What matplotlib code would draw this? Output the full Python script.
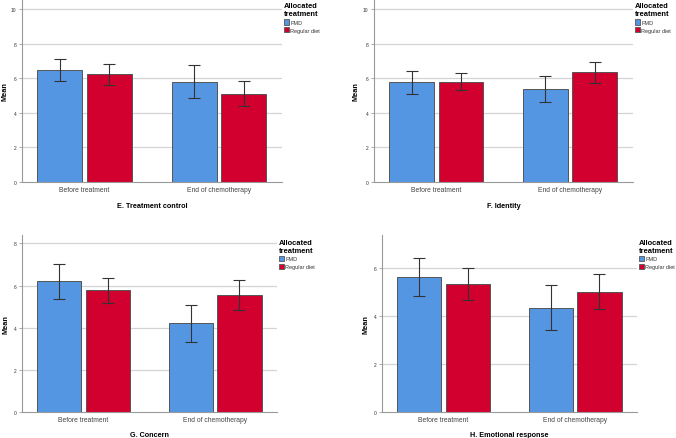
import numpy as np
import matplotlib
matplotlib.use('Agg')
import matplotlib.pyplot as plt
from matplotlib.patches import Patch

plt.rcParams['font.family'] = ['Liberation Sans', 'DejaVu Sans']

# time points and groups
timepoints = ['Before treatment', 'End of chemotherapy']
groups = ['FMD', 'Regular diet']
group_colors = ['#5596E3', '#D1002E']

# panel titles
panel_titles = ['E. Treatment control', 'F. Identity', 'G. Concern', 'H. Emotional response']

# means per panel: [before, end]
e_fmd = [6.51, 5.82]
e_reg = [6.24, 5.13]
f_fmd = [5.80, 5.41]
f_reg = [5.82, 6.38]
g_fmd = [6.20, 4.21]
g_reg = [5.79, 5.54]
h_fmd = [5.64, 4.35]
h_reg = [5.33, 5.01]

# error bar ends (lower, upper)
e_fmd_lo = [5.88, 4.87]
e_fmd_hi = [7.11, 6.76]
e_reg_lo = [5.65, 4.41]
e_reg_hi = [6.86, 5.86]
f_fmd_lo = [5.13, 4.66]
f_fmd_hi = [6.45, 6.15]
f_reg_lo = [5.36, 5.76]
f_reg_hi = [6.30, 6.97]
g_fmd_lo = [5.38, 3.34]
g_fmd_hi = [7.02, 5.08]
g_reg_lo = [5.19, 4.83]
g_reg_hi = [6.37, 6.25]
h_fmd_lo = [4.85, 3.43]
h_fmd_hi = [6.40, 5.28]
h_reg_lo = [4.68, 4.27]
h_reg_hi = [6.00, 5.76]

# y ticks per panel
e_ticks = [0, 2, 4, 6, 8, 10]
f_ticks = [0, 2, 4, 6, 8, 10]
g_ticks = [0, 2, 4, 6, 8]
h_ticks = [0, 2, 4, 6]
ylims = [10.55, 10.55, 8.4, 7.37]

W, H = 676, 439
fig = plt.figure(figsize=(W / 100, H / 100), dpi=100)
fig.patch.set_facecolor('white')

# axes boxes in pixels: left, top, right, bottom
boxes = [(22, 1, 282, 183), (374, 1, 633, 183), (22, 236, 277, 413), (382, 236, 637, 413)]
# x pixel of the "Mean" label centre
ylab_x = [5, 356, 6, 366]

panels = [
    (e_fmd, e_reg, e_fmd_lo, e_fmd_hi, e_reg_lo, e_reg_hi, e_ticks),
    (f_fmd, f_reg, f_fmd_lo, f_fmd_hi, f_reg_lo, f_reg_hi, f_ticks),
    (g_fmd, g_reg, g_fmd_lo, g_fmd_hi, g_reg_lo, g_reg_hi, g_ticks),
    (h_fmd, h_reg, h_fmd_lo, h_fmd_hi, h_reg_lo, h_reg_hi, h_ticks),
]

bw = 0.335
off = 0.185
x = np.arange(len(timepoints))

for i, (fmd, reg, flo, fhi, rlo, rhi, ticks) in enumerate(panels):
    l, t, r, b = boxes[i]
    ax = fig.add_axes([l / W, 1 - b / H, (r - l) / W, (b - t) / H])
    ax.set_axisbelow(True)
    for yt in ticks[1:]:
        ax.axhline(yt, color='#d4d4d4', lw=0.9, zorder=0)
    for vals, lo, hi, c, dx in [(fmd, flo, fhi, group_colors[0], -off),
                                (reg, rlo, rhi, group_colors[1], off)]:
        ax.bar(x + dx, vals, width=bw, color=c, edgecolor='#555555', linewidth=0.7, zorder=2)
        vals = np.array(vals)
        yerr = [vals - np.array(lo), np.array(hi) - vals]
        ax.errorbar(x + dx, vals, yerr=yerr, fmt='none', ecolor='#333333',
                    elinewidth=0.8, capsize=4.5, capthick=0.8, zorder=3)
    ax.set_xlim(-0.466, 1.47)
    ax.set_ylim(0, ylims[i])
    ax.set_yticks(ticks)
    ax.set_yticklabels([str(v) for v in ticks], fontsize=3.5, color='#333333')
    ax.set_xticks(x)
    ax.set_xticklabels(timepoints, fontsize=4.9, color='#444444')
    ax.tick_params(axis='y', length=2, width=0.5, color='#888888', pad=2)
    ax.tick_params(axis='x', length=0, pad=3)
    for s in ['top', 'right']:
        ax.spines[s].set_visible(False)
    for s in ['left', 'bottom']:
        ax.spines[s].set_color('#999999')
        ax.spines[s].set_linewidth(0.8)
    ax.set_ylabel('Mean', fontsize=5.3, fontweight='bold', va='center')
    ax.yaxis.set_label_coords((ylab_x[i] - l) / (r - l), 0.5)
    ax.set_xlabel(panel_titles[i], fontsize=5.2, fontweight='bold', labelpad=6)

    handles = [Patch(facecolor=group_colors[k], edgecolor='#555555', linewidth=0.6, label=groups[k])
               for k in range(len(groups))]
    leg = ax.legend(handles=handles, title='Allocated\ntreatment', loc='upper left',
                    bbox_to_anchor=(1.0, 1.0 if i < 2 else 0.99), frameon=False, fontsize=4.0,
                    title_fontsize=5.4, handlelength=0.95, handleheight=1.1,
                    handletextpad=0.15, borderpad=0.2, labelspacing=0.4, borderaxespad=0.15,
                    alignment='left')
    leg.get_title().set_fontweight('bold')
    leg.get_title().set_multialignment('left')
    for txt in leg.get_texts():
        txt.set_color('#333333')

fig.savefig('out.png', dpi=100, facecolor='white')
